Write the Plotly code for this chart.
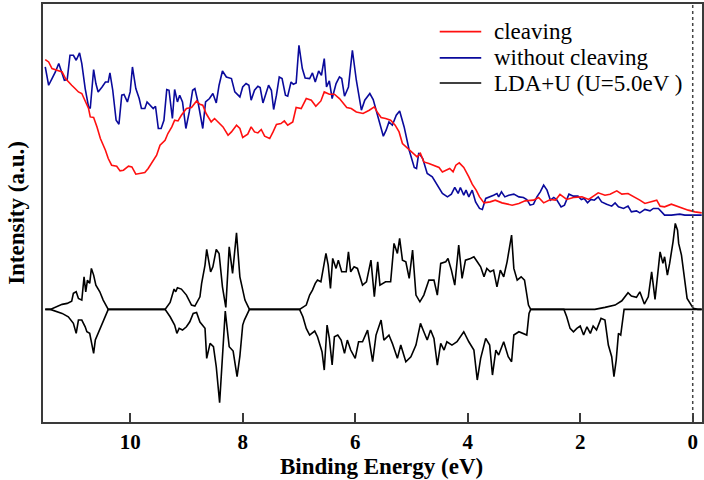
import plotly.graph_objects as go

# --- Photoemission spectra (binding energy in eV, intensity in arbitrary units) ---
cleaving_energy = [11.51, 11.45, 11.39, 11.33, 11.27, 11.21, 11.15, 11.10, 11.04, 10.98, 10.92, 10.86,
                   10.80, 10.74, 10.71, 10.65, 10.59, 10.53, 10.44, 10.39, 10.33, 10.24, 10.18, 10.12,
                   10.03, 9.97, 9.90, 9.83, 9.74, 9.68, 9.62, 9.53, 9.47, 9.38, 9.33, 9.26, 9.21, 9.15,
                   9.09, 9.00, 8.91, 8.82, 8.76, 8.71, 8.65, 8.56, 8.50, 8.44, 8.35, 8.26, 8.20, 8.11,
                   8.05, 8.00, 7.91, 7.85, 7.79, 7.73, 7.67, 7.61, 7.52, 7.46, 7.40, 7.32, 7.26, 7.20,
                   7.11, 7.05, 6.96, 6.87, 6.78, 6.70, 6.61, 6.55, 6.46, 6.37, 6.28, 6.15, 6.07, 5.98,
                   5.86, 5.75, 5.66, 5.61, 5.54, 5.46, 5.37, 5.29, 5.22, 5.16, 5.07, 4.98, 4.90, 4.84,
                   4.78, 4.69, 4.60, 4.51, 4.45, 4.38, 4.32, 4.26, 4.21, 4.15, 4.07, 3.98, 3.92, 3.85,
                   3.79, 3.71, 3.60, 3.51, 3.39, 3.21, 3.09, 2.98, 2.83, 2.74, 2.65, 2.53, 2.44, 2.36,
                   2.24, 2.12, 1.97, 1.85, 1.77, 1.68, 1.56, 1.47, 1.35, 1.26, 1.15, 1.03, 0.94, 0.85,
                   0.76, 0.64, 0.58, 0.50, 0.38, 0.29, 0.17, 0.08, -0.04, -0.16]
cleaving_intensity = [362.7, 360.3, 353.7, 352.7, 352.0, 350.3, 343.7, 340.3, 337.0, 333.7, 330.3, 328.7,
                      320.3, 313.7, 305.3, 304.7, 295.3, 283.7, 272.0, 263.7, 257.0, 256.0, 251.3, 252.0,
                      256.0, 255.3, 248.0, 248.7, 249.7, 253.7, 259.3, 267.0, 277.0, 282.0, 288.7, 295.3,
                      302.0, 301.3, 307.0, 313.7, 314.7, 321.3, 318.0, 317.0, 308.7, 300.3, 303.7, 300.3,
                      295.3, 287.0, 290.3, 297.0, 293.7, 284.7, 288.0, 295.3, 290.3, 289.3, 292.7, 286.0,
                      283.7, 290.3, 297.7, 298.7, 301.3, 297.0, 300.3, 314.7, 313.7, 323.7, 322.0, 316.0,
                      321.3, 330.3, 328.0, 328.0, 323.7, 314.7, 313.7, 310.3, 308.7, 312.0, 315.3, 310.3,
                      304.7, 303.7, 302.0, 297.0, 290.3, 278.7, 273.7, 268.7, 265.3, 268.7, 260.3, 258.7,
                      257.0, 254.7, 250.3, 252.0, 253.7, 250.3, 257.0, 259.3, 254.7, 245.3, 238.0, 232.0,
                      225.3, 219.3, 220.3, 222.0, 219.3, 217.0, 218.7, 221.3, 222.0, 224.7, 219.3, 222.7,
                      222.0, 227.7, 222.7, 224.7, 225.3, 222.7, 226.0, 229.3, 227.0, 228.0, 231.3, 228.0,
                      228.7, 225.3, 222.0, 218.7, 220.3, 222.0, 216.0, 215.3, 218.0, 216.0, 213.7, 212.0,
                      210.3, 209.3]

no_cleaving_energy = [11.51, 11.45, 11.39, 11.33, 11.27, 11.23, 11.17, 11.12, 11.07, 11.01, 10.96, 10.90,
                      10.86, 10.80, 10.74, 10.71, 10.65, 10.61, 10.57, 10.50, 10.44, 10.39, 10.36, 10.31,
                      10.25, 10.20, 10.15, 10.11, 10.05, 10.00, 9.96, 9.90, 9.84, 9.80, 9.74, 9.70, 9.64,
                      9.59, 9.55, 9.50, 9.45, 9.40, 9.35, 9.31, 9.25, 9.21, 9.16, 9.12, 9.07, 9.01, 8.95,
                      8.89, 8.85, 8.79, 8.71, 8.66, 8.59, 8.53, 8.47, 8.42, 8.36, 8.29, 8.20, 8.14, 8.05,
                      8.00, 7.94, 7.89, 7.85, 7.79, 7.73, 7.69, 7.64, 7.58, 7.54, 7.49, 7.45, 7.40, 7.35,
                      7.30, 7.24, 7.20, 7.14, 7.10, 7.05, 7.00, 6.94, 6.89, 6.81, 6.76, 6.71, 6.65, 6.60,
                      6.55, 6.51, 6.46, 6.41, 6.34, 6.28, 6.24, 6.19, 6.12, 6.05, 5.98, 5.89, 5.83, 5.74,
                      5.68, 5.61, 5.50, 5.45, 5.40, 5.34, 5.27, 5.21, 5.13, 5.04, 4.95, 4.91, 4.87, 4.80,
                      4.72, 4.63, 4.54, 4.45, 4.36, 4.29, 4.23, 4.17, 4.13, 4.07, 4.03, 3.98, 3.92, 3.86,
                      3.79, 3.74, 3.68, 3.60, 3.54, 3.48, 3.45, 3.40, 3.34, 3.27, 3.18, 3.09, 3.01, 2.95,
                      2.89, 2.83, 2.77, 2.71, 2.65, 2.59, 2.53, 2.47, 2.42, 2.34, 2.28, 2.20, 2.12, 2.04,
                      1.98, 1.93, 1.87, 1.81, 1.75, 1.68, 1.62, 1.53, 1.44, 1.38, 1.32, 1.23, 1.15, 1.09,
                      1.00, 0.94, 0.85, 0.76, 0.70, 0.61, 0.50, 0.38, 0.23, 0.14, -0.16]
no_cleaving_intensity = [355.3, 337.0, 343.7, 350.3, 358.7, 352.7, 342.0, 342.7, 367.0, 367.0, 362.0, 369.3,
                         358.7, 333.7, 315.3, 313.7, 352.7, 338.7, 330.3, 335.3, 340.3, 340.3, 349.3, 332.0,
                         302.0, 298.0, 327.0, 327.7, 320.3, 330.3, 355.3, 333.7, 323.7, 313.7, 313.7, 320.3,
                         317.0, 313.7, 316.0, 293.7, 293.7, 302.0, 332.7, 332.0, 303.7, 332.7, 320.3, 327.0,
                         320.3, 293.7, 310.3, 332.0, 333.7, 318.7, 293.7, 320.3, 323.7, 328.7, 319.3, 337.0,
                         351.3, 345.3, 343.7, 330.3, 325.3, 335.3, 338.7, 337.0, 322.0, 332.0, 336.0, 334.7,
                         319.3, 328.7, 337.0, 332.0, 312.7, 327.0, 345.3, 343.7, 327.0, 326.0, 340.3, 338.0,
                         339.3, 377.0, 353.7, 344.3, 343.7, 349.3, 340.3, 351.3, 347.0, 363.7, 335.3, 341.3,
                         323.7, 338.7, 345.3, 343.7, 326.0, 335.3, 372.0, 342.0, 312.0, 322.0, 328.7, 322.7,
                         308.7, 286.0, 292.0, 300.3, 297.0, 307.0, 311.3, 295.3, 272.0, 254.7, 253.7, 269.3,
                         263.7, 248.7, 245.3, 237.0, 228.7, 225.3, 228.0, 234.7, 228.7, 234.7, 227.0, 232.0,
                         225.3, 232.0, 220.3, 213.7, 212.7, 223.7, 225.3, 227.0, 228.7, 225.3, 230.3, 225.3,
                         227.0, 228.0, 225.3, 224.7, 222.7, 217.0, 218.0, 225.3, 230.3, 237.0, 232.0, 222.0,
                         224.7, 222.7, 215.3, 217.0, 228.0, 226.0, 226.0, 222.7, 223.7, 219.3, 222.7, 222.0,
                         225.3, 220.3, 218.0, 216.0, 219.3, 215.3, 213.7, 216.0, 210.3, 211.3, 209.3, 212.7,
                         211.3, 213.7, 213.7, 207.0, 207.0, 208.0, 207.0, 207.0]

# --- LDA+U (U = 5.0 eV) density of states, spin up / spin down (arbitrary units) ---
dos_up_energy = [11.51, 11.42, 11.21, 11.12, 11.04, 11.01, 10.96, 10.92, 10.86, 10.82, 10.79, 10.76,
                 10.72, 10.69, 10.65, 10.61, 10.54, 10.48, 10.39, 9.38, 9.29, 9.25, 9.22, 9.19, 9.16,
                 9.09, 9.00, 8.91, 8.85, 8.76, 8.73, 8.67, 8.64, 8.57, 8.53, 8.47, 8.42, 8.36, 8.30,
                 8.24, 8.18, 8.11, 8.05, 7.96, 7.88, 6.99, 6.87, 6.81, 6.76, 6.71, 6.67, 6.61, 6.55,
                 6.52, 6.48, 6.44, 6.40, 6.34, 6.30, 6.24, 6.16, 6.12, 6.08, 6.02, 5.96, 5.90, 5.87,
                 5.80, 5.72, 5.66, 5.60, 5.56, 5.46, 5.37, 5.31, 5.25, 5.21, 5.16, 5.10, 5.04, 4.98,
                 4.92, 4.85, 4.78, 4.69, 4.60, 4.54, 4.48, 4.39, 4.35, 4.29, 4.23, 4.16, 4.10, 4.04,
                 3.95, 3.89, 3.83, 3.77, 3.71, 3.66, 3.60, 3.54, 3.48, 3.42, 3.36, 3.30, 3.22, 3.18,
                 3.12, 3.05, 2.99, 2.92, 2.88, 1.74, 1.56, 1.38, 1.26, 1.15, 1.09, 1.00, 0.94, 0.86,
                 0.79, 0.73, 0.67, 0.63, 0.58, 0.53, 0.50, 0.45, 0.41, 0.35, 0.31, 0.27, 0.25, 0.20,
                 0.14, 0.10, -0.01, -0.09, -0.16]
dos_up = [0, 0, 5.0, 6.0, 8.3, 16.0, 17.6, 11.0, 9.3, 32.6, 17.6, 29.3,
          26.0, 41.0, 34.3, 24.3, 17.6, 9.3, 0, 0, 7.0, 14.3, 20.3, 17.6, 21.6,
          20.3, 14.3, 4.3, 3.3, 12.6, 26.0, 44.3, 60.0, 37.6, 42.6, 60.0, 56.0, 22.6, 2.0,
          62.6, 36.0, 76.6, 32.6, 9.3, 0, 0, 4.3, 14.3, 19.3, 26.0, 29.3, 27.6, 46.0,
          56.0, 44.3, 21.0, 51.0, 41.0, 49.3, 37.6, 37.6, 57.6, 37.6, 42.6, 41.0, 29.3, 24.3,
          27.6, 49.3, 12.6, 47.6, 24.3, 27.6, 27.6, 66.0, 56.0, 71.0, 49.3, 47.6, 31.0, 59.3,
          14.3, 7.6, 14.3, 29.3, 29.3, 14.3, 46.0, 47.6, 51.0, 39.3, 24.3, 64.3, 31.0, 49.3,
          51.0, 52.6, 47.6, 42.6, 32.6, 41.0, 37.6, 39.3, 22.6, 39.3, 32.6, 47.6, 74.3, 41.0,
          29.3, 32.6, 29.3, 4.3, 0, 0, 2.0, 4.3, 8.6, 16.6, 13.3, 12.0, 17.6, 5.3,
          12.6, 37.6, 10.0, 32.6, 57.6, 46.0, 52.6, 34.3, 46.0, 67.6, 86.0, 79.3, 66.0, 54.3,
          31.0, 11.0, 1.0, 0, 0]

dos_dn_energy = [11.51, 11.42, 11.21, 11.10, 11.01, 10.96, 10.92, 10.86, 10.80, 10.77, 10.72, 10.68,
                 10.65, 10.62, 10.56, 10.48, 10.39, 9.38, 9.29, 9.21, 9.17, 9.13, 9.07, 9.00, 8.94,
                 8.88, 8.82, 8.76, 8.67, 8.64, 8.58, 8.52, 8.47, 8.41, 8.36, 8.31, 8.24, 8.17, 8.10,
                 8.05, 8.00, 7.97, 7.88, 6.99, 6.93, 6.87, 6.81, 6.72, 6.67, 6.59, 6.55, 6.50, 6.46,
                 6.41, 6.37, 6.31, 6.25, 6.19, 6.14, 6.08, 6.00, 5.94, 5.87, 5.78, 5.69, 5.63, 5.54,
                 5.49, 5.40, 5.34, 5.25, 5.19, 5.10, 5.01, 4.92, 4.84, 4.78, 4.72, 4.66, 4.60, 4.54,
                 4.48, 4.42, 4.37, 4.28, 4.19, 4.07, 3.98, 3.89, 3.83, 3.77, 3.68, 3.61, 3.56, 3.50,
                 3.45, 3.36, 3.28, 3.22, 3.18, 3.09, 3.01, 2.95, 2.91, 2.88, 2.29, 2.24, 2.18, 2.12,
                 2.06, 2.00, 1.94, 1.88, 1.82, 1.77, 1.71, 1.63, 1.56, 1.50, 1.44, 1.40, 1.36, 1.32,
                 1.28, 1.22, -0.16]
dos_dn = [0, 0, 4.0, 7.4, 14.0, 24.0, 10.7, 10.7, 17.4, 22.4, 24.0, 35.7,
          44.0, 30.7, 22.4, 10.7, 0, 0, 7.4, 15.7, 24.0, 19.0, 20.7, 17.4, 12.4,
          4.0, 3.0, 12.7, 19.0, 49.0, 34.0, 37.4, 57.4, 93.4, 52.7, 1.7, 37.4, 41.7, 67.4,
          46.7, 15.7, 10.7, 0, 0, 7.4, 19.0, 25.7, 21.7, 27.4, 42.4, 60.7, 15.7, 29.0,
          55.7, 27.4, 25.7, 30.7, 44.0, 30.7, 40.7, 49.0, 32.4, 32.4, 20.7, 52.4, 25.7, 10.7,
          30.7, 25.7, 34.0, 49.0, 35.7, 52.4, 47.4, 35.7, 14.0, 22.4, 30.7, 20.7, 29.0, 55.7,
          34.0, 40.7, 32.4, 35.7, 32.4, 22.4, 32.4, 40.7, 70.7, 49.0, 29.0, 35.7, 65.7, 40.7,
          45.7, 32.4, 47.4, 52.4, 25.7, 22.4, 24.0, 25.7, 4.0, 0, 0, 7.4, 19.0, 22.4,
          19.0, 16.7, 25.7, 17.4, 24.0, 16.7, 20.7, 9.0, 10.7, 35.7, 47.4, 67.4, 50.7, 24.0,
          25.7, 0, 0]

DOS_BASELINE = 112.7  # vertical offset of the DOS zero line

FONT = "Liberation Serif"
RED = "#ff1010"
BLUE = "#0a0a9c"
AXIS = "#3a3a3a"

fig = go.Figure()

fig.add_trace(go.Scatter(x=dos_up_energy, y=[DOS_BASELINE + v for v in dos_up],
                         mode="lines", line=dict(color="black", width=1.6), showlegend=False))
fig.add_trace(go.Scatter(x=dos_dn_energy, y=[DOS_BASELINE - v for v in dos_dn],
                         mode="lines", line=dict(color="black", width=1.6), showlegend=False))
fig.add_trace(go.Scatter(x=no_cleaving_energy, y=no_cleaving_intensity,
                         mode="lines", line=dict(color=BLUE, width=1.6), showlegend=False))
fig.add_trace(go.Scatter(x=cleaving_energy, y=cleaving_intensity,
                         mode="lines", line=dict(color=RED, width=1.6), showlegend=False))

# Fermi level marker
fig.add_shape(type="line", xref="x", yref="paper", x0=0, x1=0, y0=0, y1=1,
              line=dict(color="#444444", width=1.5, dash="3px,3px"))

# Legend drawn as line samples with labels
legend_items = [("cleaving", RED), ("without cleaving", BLUE), ("LDA+U (U=5.0eV )", "black")]
legend_rows = [0.934, 0.871, 0.811]
for (label, color), yrow in zip(legend_items, legend_rows):
    fig.add_shape(type="line", xref="paper", yref="paper", x0=0.602, x1=0.665, y0=yrow, y1=yrow,
                  line=dict(color=color, width=1.6))
    fig.add_annotation(xref="paper", yref="paper", x=0.681, y=yrow, text=label, showarrow=False,
                       xanchor="left", yanchor="middle",
                       font=dict(family=FONT, size=23, color="black"))

fig.add_annotation(xref="paper", yref="paper", x=0.513, y=-0.071, text="<b>Binding Energy (eV)</b>",
                   showarrow=False, xanchor="center", yanchor="top",
                   font=dict(family=FONT, size=23, color="black"))

fig.update_layout(
    width=704, height=480,
    margin=dict(l=43, r=0, t=4, b=58),
    plot_bgcolor="white", paper_bgcolor="white",
    font=dict(family=FONT, color="black"),
    xaxis=dict(range=[11.55, -0.165], tickvals=[10, 8, 6, 4, 2, 0],
               ticktext=["<b>10</b>", "<b>8</b>", "<b>6</b>", "<b>4</b>", "<b>2</b>", "<b>0</b>"],
               ticks="inside", ticklen=9, tickwidth=1.5, tickcolor=AXIS,
               showline=True, linecolor=AXIS, linewidth=1.5, mirror=True,
               showgrid=False, zeroline=False,
               tickfont=dict(family=FONT, size=21, color="black")),
    yaxis=dict(range=[0, 418.3], showticklabels=False, ticks="",
               showline=True, linecolor=AXIS, linewidth=1.5, mirror=True,
               showgrid=False, zeroline=False,
               title=dict(text="<b>Intensity (a.u.)</b>", standoff=10,
                          font=dict(family=FONT, size=23, color="black"))),
)

fig.write_html("out.html")
